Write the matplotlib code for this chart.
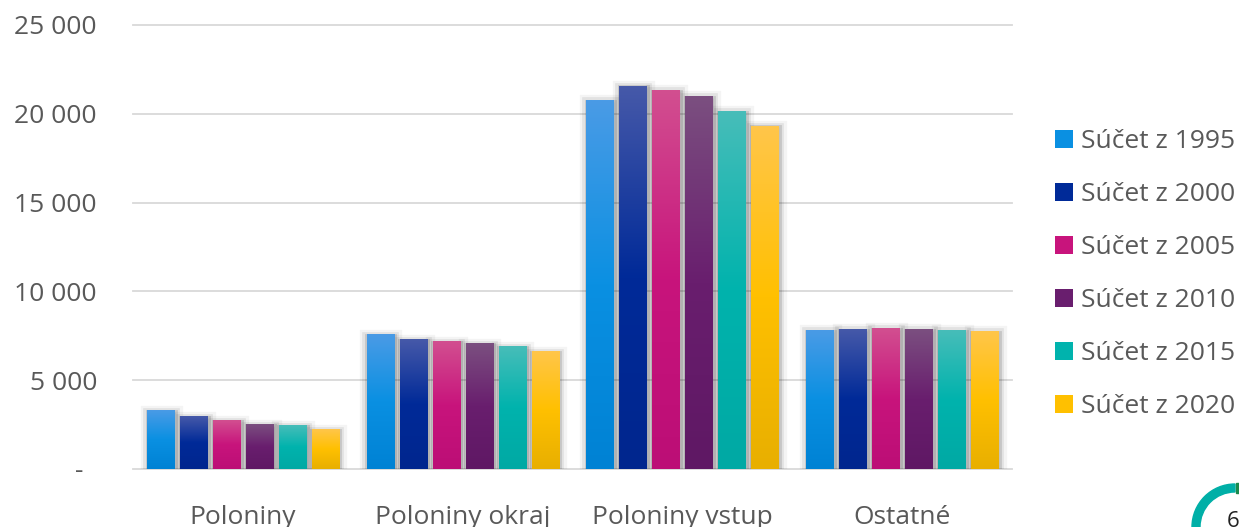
import numpy as np
import matplotlib
matplotlib.use('Agg')
import matplotlib.pyplot as plt
import matplotlib.patheffects as pe
from matplotlib.colors import LinearSegmentedColormap
from matplotlib.patches import Patch, Wedge, Rectangle

# údaje
categories = ['Poloniny', 'Poloniny okraj', 'Poloniny vstup', 'Ostatné']
series = ['Súčet z 1995', 'Súčet z 2000', 'Súčet z 2005',
          'Súčet z 2010', 'Súčet z 2015', 'Súčet z 2020']
values = {
    'Súčet z 1995': [3290, 7550, 20770, 7810],
    'Súčet z 2000': [2950, 7270, 21560, 7870],
    'Súčet z 2005': [2720, 7160, 21330, 7920],
    'Súčet z 2010': [2490, 7050, 20990, 7870],
    'Súčet z 2015': [2440, 6880, 20150, 7810],
    'Súčet z 2020': [2210, 6600, 19310, 7760],
}
yticks = [0, 5000, 10000, 15000, 20000, 25000]
ytick_labels = ['-  ', '5 000', '10 000', '15 000', '20 000', '25 000']

# farby: (spodok, stred, vrch)
colors = [
    ('#0082d4', '#0a90e2', '#4a9be6'),
    ('#00268e', '#002a98', '#4659a9'),
    ('#bc0e76', '#c8147c', '#d24f90'),
    ('#5f1864', '#691e6e', '#7b4f80'),
    ('#00a9a4', '#00b3ad', '#47bdb9'),
    ('#e8af00', '#ffc000', '#ffc64a'),
]

plt.rcParams['font.family'] = ['Open Sans', 'DejaVu Sans']

fig = plt.figure(figsize=(12.39, 5.27), dpi=100)
ax = fig.add_axes([133 / 1239, 58 / 527, 879 / 1239, 444 / 527])

x = np.arange(len(categories))
step = 0.15
width = 0.123
grad = np.linspace(0, 1, 256).reshape(-1, 1)

shadow = [pe.Stroke(linewidth=11, foreground='k', alpha=0.045, offset=(0.5, -1.5)),
          pe.Stroke(linewidth=7, foreground='k', alpha=0.07, offset=(0.5, -1.5)),
          pe.Stroke(linewidth=3.5, foreground='k', alpha=0.12, offset=(0.5, -1)),
          pe.Normal()]

for i, name in enumerate(series):
    bars = ax.bar(x + (i - 2.5) * step, values[name], width,
                  color=colors[i][1], zorder=2, linewidth=0)
    cmap = LinearSegmentedColormap.from_list(name, colors[i])
    for b in bars:
        b.set_path_effects(shadow)
        x0, h = b.get_x(), b.get_height()
        ax.imshow(grad, extent=[x0, x0 + b.get_width(), 0, h], origin='lower',
                  cmap=cmap, aspect='auto', zorder=3, interpolation='bilinear')

ax.set_xlim(-0.5, len(categories) - 0.5)
ax.set_ylim(0, 25000)
ax.set_yticks(yticks)
ax.set_yticklabels(ytick_labels)
ax.set_xticks(x)
ax.set_xticklabels(categories)
ax.tick_params(axis='both', length=0, labelsize=19, labelcolor='#595959')
ax.tick_params(axis='y', pad=26)
ax.tick_params(axis='x', pad=26)

ax.set_axisbelow(True)
ax.yaxis.grid(True, color='#d9d9d9', linewidth=1.3)
for line in ax.get_ygridlines():
    line.set_clip_on(False)
for s in ax.spines.values():
    s.set_visible(False)

handles = [Patch(facecolor=c[1], edgecolor='none') for c in colors]
fig.legend(handles, series, loc='upper left',
           bbox_to_anchor=(1055 / 1239, (527 - 129) / 527),
           frameon=False, fontsize=19, labelcolor='#595959',
           handlelength=0.68, handleheight=0.68, handletextpad=0.3,
           labelspacing=1.06, borderpad=0, borderaxespad=0)

# dekorácia v pravom dolnom rohu
over = fig.add_axes([0, 0, 1, 1], facecolor='none', zorder=-1)
over.set_xlim(0, 1239)
over.set_ylim(527, 0)
over.axis('off')
over.add_patch(Wedge((1235, 527), 43, 180, 270, width=8, color='#00afa7'))
over.add_patch(Rectangle((1236, 483), 4, 10, color='#1b8a4c'))
over.text(1227, 511, '6', fontsize=16, color='#222222', va='top', ha='left')

fig.savefig('out.png', dpi=100)
